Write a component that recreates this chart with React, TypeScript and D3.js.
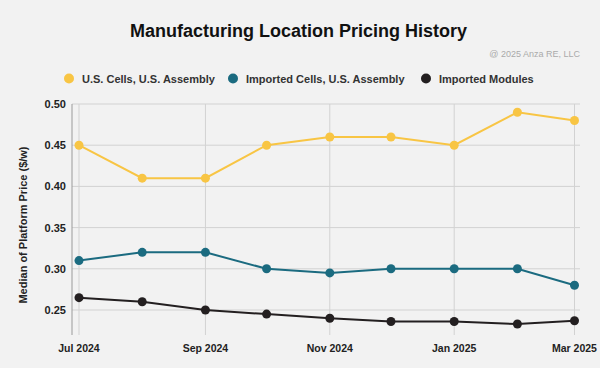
import { useRef, useEffect } from 'react';
import * as d3 from 'd3';

// Monthly medians, Jul 2024 -> Mar 2025
const months = ['2024-07', '2024-08', '2024-09', '2024-10', '2024-11', '2024-12', '2025-01', '2025-02', '2025-03'];
const usCells = [0.45, 0.41, 0.41, 0.45, 0.46, 0.46, 0.45, 0.49, 0.48];
const importedCells = [0.31, 0.32, 0.32, 0.30, 0.295, 0.30, 0.30, 0.30, 0.28];
const importedModules = [0.265, 0.26, 0.25, 0.245, 0.24, 0.236, 0.236, 0.233, 0.237];
const yTicks = [0.25, 0.3, 0.35, 0.4, 0.45, 0.5];
const xTicks = ['2024-07', '2024-09', '2024-11', '2025-01', '2025-03'];
const seriesNames = ['U.S. Cells, U.S. Assembly', 'Imported Cells, U.S. Assembly', 'Imported Modules'];
const seriesColors = ['#f8c544', '#1b6b80', '#231f20'];

const W = 600;
const H = 368;
const FONT = 'Liberation Sans, Arial, sans-serif';

export default function App() {
  const svgRef = useRef<SVGSVGElement>(null);

  useEffect(() => {
    if (!svgRef.current) return;
    const svg = d3.select(svgRef.current);
    svg.selectAll('*').remove();

    const parse = d3.timeParse('%Y-%m');
    const dates = months.map((m) => parse(m) as Date);

    const plot = { left: 72, right: 580, top: 104, bottom: 335 };

    svg.append('rect').attr('width', W).attr('height', H).attr('fill', '#f2f2f2');

    // title + credit
    svg.append('text')
      .attr('x', 298.5).attr('y', 37)
      .attr('text-anchor', 'middle')
      .style('font-family', FONT).style('font-weight', 700).style('font-size', '18px')
      .attr('fill', '#111')
      .text('Manufacturing Location Pricing History');

    svg.append('text')
      .attr('x', 580).attr('y', 56.5)
      .attr('text-anchor', 'end')
      .style('font-family', FONT).style('font-size', '9px')
      .attr('fill', '#aaaaaa')
      .text('@ 2025 Anza RE, LLC');

    // legend
    const legendX = [69, 233, 426];
    seriesNames.forEach((name, i) => {
      const g = svg.append('g').attr('transform', `translate(${legendX[i]},78.5)`);
      g.append('circle').attr('r', 5).attr('fill', seriesColors[i]);
      g.append('text')
        .attr('x', 13).attr('y', 4)
        .style('font-family', FONT).style('font-weight', 700).style('font-size', '11px')
        .attr('fill', '#333')
        .text(name);
    });

    const x = d3.scaleTime()
      .domain([dates[0], dates[dates.length - 1]])
      .range([79, 574.5]);

    const y = d3.scaleLinear()
      .domain([0.25, 0.5])
      .range([310, plot.top]);

    // grid
    svg.append('g')
      .selectAll('line')
      .data(yTicks)
      .join('line')
      .attr('x1', plot.left).attr('x2', plot.right)
      .attr('y1', (d) => y(d)).attr('y2', (d) => y(d))
      .attr('stroke', '#d2d2d2').attr('stroke-width', 1);

    svg.append('g')
      .selectAll('line')
      .data(xTicks.map((m) => parse(m) as Date))
      .join('line')
      .attr('x1', (d) => x(d)).attr('x2', (d) => x(d))
      .attr('y1', plot.top).attr('y2', plot.bottom)
      .attr('stroke', '#d2d2d2').attr('stroke-width', 1);

    // y axis line
    svg.append('line')
      .attr('x1', plot.left).attr('x2', plot.left)
      .attr('y1', plot.top).attr('y2', plot.bottom)
      .attr('stroke', '#9a9a9a').attr('stroke-width', 1);

    // y tick labels
    svg.append('g')
      .selectAll('text')
      .data(yTicks)
      .join('text')
      .attr('x', 66).attr('y', (d) => y(d) + 4)
      .attr('text-anchor', 'end')
      .style('font-family', FONT).style('font-weight', 700).style('font-size', '11px')
      .attr('fill', '#222')
      .text((d) => d3.format('.2f')(d));

    // x tick labels
    const fmt = d3.timeFormat('%b %Y');
    svg.append('g')
      .selectAll('text')
      .data(xTicks.map((m) => parse(m) as Date))
      .join('text')
      .attr('x', (d) => x(d)).attr('y', 351.5)
      .attr('text-anchor', 'middle')
      .style('font-family', FONT).style('font-weight', 700).style('font-size', '10.5px')
      .attr('fill', '#222')
      .text((d) => fmt(d));

    // y axis title
    svg.append('text')
      .attr('transform', `translate(27,225) rotate(-90)`)
      .attr('text-anchor', 'middle')
      .style('font-family', FONT).style('font-weight', 700).style('font-size', '11px')
      .attr('fill', '#222')
      .text('Median of Platform Price ($/w)');

    // series
    const allSeries = [usCells, importedCells, importedModules];
    const line = d3.line<number>()
      .x((_, i) => x(dates[i]))
      .y((d) => y(d));

    allSeries.forEach((vals, si) => {
      svg.append('path')
        .datum(vals)
        .attr('d', line)
        .attr('fill', 'none')
        .attr('stroke', seriesColors[si])
        .attr('stroke-width', 2);

      svg.append('g')
        .selectAll('circle')
        .data(vals)
        .join('circle')
        .attr('cx', (_, i) => x(dates[i]))
        .attr('cy', (d) => y(d))
        .attr('r', 4.5)
        .attr('fill', seriesColors[si]);
    });
  }, []);

  return (
    <div style={{ position: 'fixed', left: 0, top: 0, width: W, height: H }}>
      <svg ref={svgRef} width={W} height={H} style={{ display: 'block', overflow: 'visible' }} />
    </div>
  );
}
